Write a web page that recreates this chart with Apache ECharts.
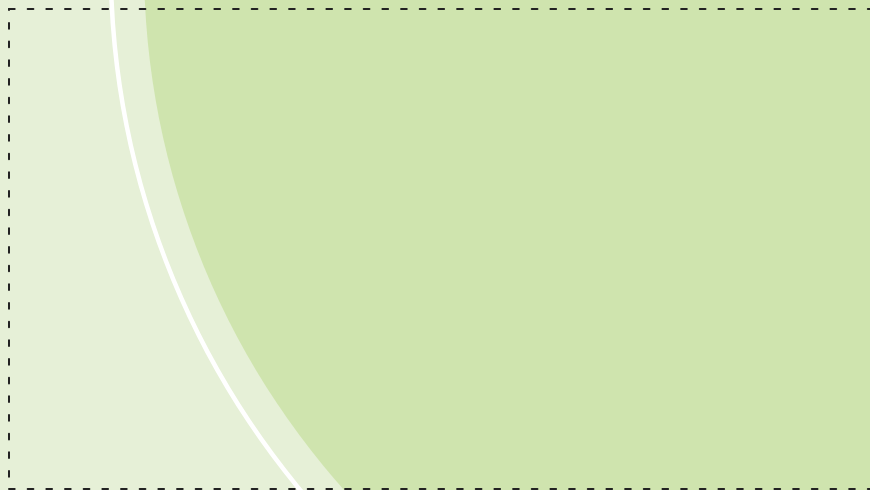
<!DOCTYPE html>
<html>
<head>
<meta charset="utf-8">
<script src="https://cdn.jsdelivr.net/npm/echarts@6/dist/echarts.min.js"></script>
<style>
    html, body { margin: 0; padding: 0; background: #e6f0d7; }
    #chart { width: 870px; height: 490px; }
</style>
</head>
<body>
<div id="chart"></div>
<script>
    // data: one big disc, one thin white ring
    var innerNames = ['inner'];
    var innerValues = [100];
    var ringNames = ['ring'];
    var ringValues = [100];

    var chart = echarts.init(document.getElementById('chart'));

    var dashed = {
        show: true,
        onZero: false,
        lineStyle: { color: '#222', width: 2, type: [5.7, 12.97] }
    };

    function toData(names, values) {
        return values.map(function (v, i) { return { name: names[i], value: v }; });
    }

    var option = {
        backgroundColor: '#e6f0d7',
        animation: false,
        grid: { left: 9, top: 9, width: 900, height: 480 },
        xAxis: [
            { type: 'value', position: 'top', min: 0, max: 1, z: 10,
              axisLine: dashed, axisTick: { show: false }, axisLabel: { show: false }, splitLine: { show: false } },
            { type: 'value', position: 'bottom', min: 0, max: 1, z: 10,
              axisLine: dashed, axisTick: { show: false }, axisLabel: { show: false }, splitLine: { show: false } }
        ],
        yAxis: {
            type: 'value', position: 'left', min: 0, max: 1, z: 10,
            axisLine: {
                show: true,
                onZero: false,
                lineStyle: { color: '#222', width: 2, type: [5.7, 12.97], dashOffset: 6.4 }
            },
            axisTick: { show: false }, axisLabel: { show: false }, splitLine: { show: false }
        },
        series: [
            {
                type: 'pie',
                silent: true,
                center: [933, -35],
                radius: [0, 789],
                label: { show: false },
                labelLine: { show: false },
                itemStyle: { color: '#cfe4ae' },
                data: toData(innerNames, innerValues)
            },
            {
                type: 'pie',
                silent: true,
                center: [933, -35],
                radius: [820, 824.5],
                label: { show: false },
                labelLine: { show: false },
                itemStyle: { color: '#ffffff' },
                data: toData(ringNames, ringValues)
            }
        ]
    };

    chart.setOption(option);
</script>
</body>
</html>
